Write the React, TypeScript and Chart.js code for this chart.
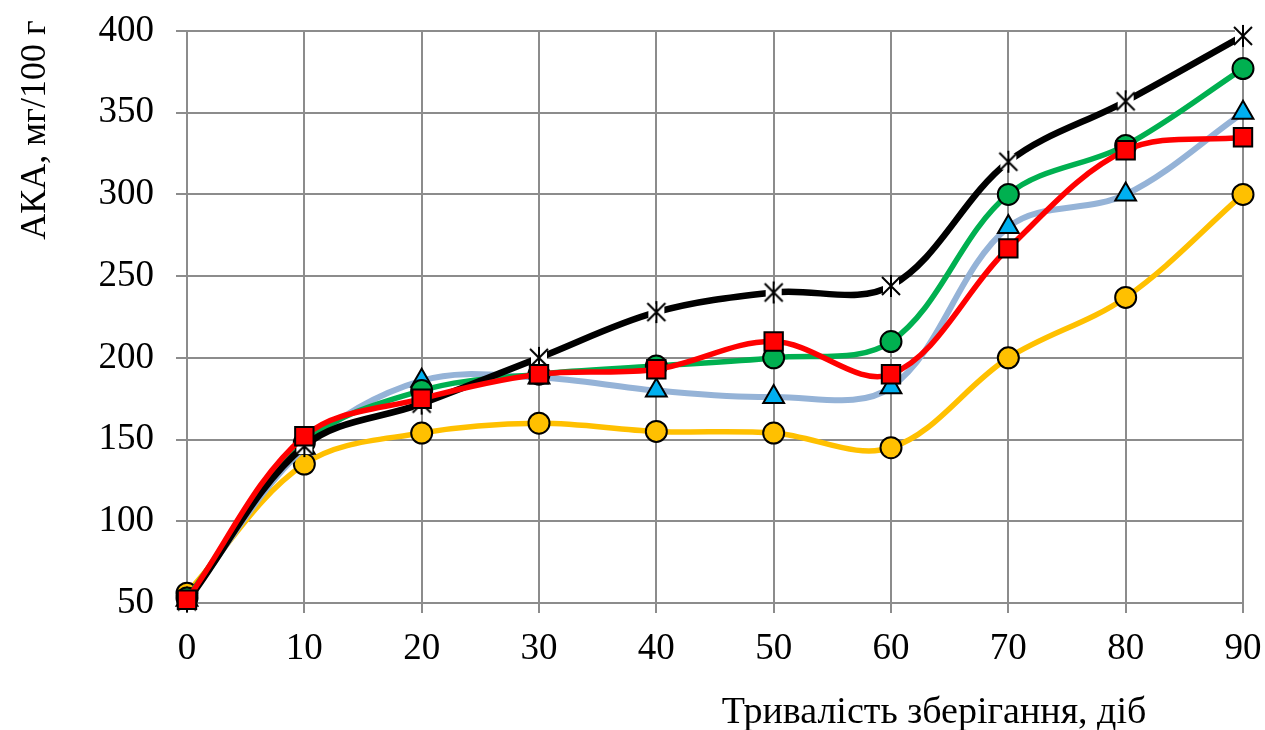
import React, { useEffect, useRef } from 'react';
import { Chart, registerables } from 'chart.js';

Chart.register(...registerables);

const days = [0, 10, 20, 30, 40, 50, 60, 70, 80, 90];
const seriesBlack = [51, 146, 172, 200, 228, 240, 244, 320, 357, 397];
const seriesGreen = [53, 148, 180, 190, 195, 200, 210, 300, 330, 377];
const seriesBlue = [52, 145, 186, 188, 180, 176, 182, 280, 300, 350];
const seriesRed = [52, 152, 175, 190, 193, 210, 190, 267, 327, 335];
const seriesYellow = [56, 135, 154, 160, 155, 154, 145, 200, 237, 300];
const yAxisTitle = 'АКА, мг/100 г';
const xAxisTitle = 'Тривалість зберігання, діб';

const FONT = "'Liberation Serif', 'Times New Roman', serif";
const GRID = '#8c8c8c';

function makeStar(): HTMLCanvasElement {
  const c = document.createElement('canvas');
  c.width = 24;
  c.height = 24;
  const g = c.getContext('2d')!;
  g.fillStyle = '#ffffff';
  g.fillRect(4, 4, 16, 16);
  g.strokeStyle = '#000000';
  g.lineWidth = 2;
  g.beginPath();
  g.moveTo(3, 3); g.lineTo(21, 21);
  g.moveTo(21, 3); g.lineTo(3, 21);
  g.moveTo(12, 1); g.lineTo(12, 23);
  g.stroke();
  return c;
}

const pts = (vals: number[]) => days.map((d, i) => ({ x: d, y: vals[i] }));

const titlePlugin = {
  id: 'axisTitles',
  afterDraw(chart: any) {
    const { ctx } = chart;
    ctx.save();
    ctx.fillStyle = '#000';
    ctx.font = `38px ${FONT}`;
    ctx.textAlign = 'center';
    ctx.textBaseline = 'alphabetic';
    ctx.fillText(xAxisTitle, 934, 723);
    ctx.font = `36px ${FONT}`;
    ctx.textBaseline = 'middle';
    ctx.translate(36, 130);
    ctx.rotate(-Math.PI / 2);
    ctx.fillText(yAxisTitle, 0, 0);
    ctx.restore();
  },
};

export default function App() {
  const ref = useRef<HTMLCanvasElement>(null);
  useEffect(() => {
    document.body.style.margin = '0';
    const star = makeStar();
    const common = {
      tension: 0.35,
      fill: false,
      pointBorderColor: '#000',
      pointBorderWidth: 2,
      pointRadius: 10.5,
      pointHoverRadius: 10.5,
      borderWidth: 5.5,
      clip: false as any,
    };
    const chart = new Chart(ref.current!, {
      type: 'line',
      data: {
        datasets: [
          { ...common, label: 'red', data: pts(seriesRed), borderColor: '#ff0000', pointStyle: 'rect', pointBackgroundColor: '#ff0000', pointRadius: 13, order: 0 },
          { ...common, label: 'black', data: pts(seriesBlack), borderColor: '#000000', borderWidth: 6.5, pointStyle: star as any, order: 1 },
          { ...common, label: 'green', data: pts(seriesGreen), borderColor: '#00b050', pointStyle: 'circle', pointBackgroundColor: '#00b050', order: 2 },
          { ...common, label: 'blue', data: pts(seriesBlue), borderColor: '#95b3d7', borderWidth: 6, pointStyle: 'triangle', pointBackgroundColor: '#00b0f0', pointRadius: 12, order: 3 },
          { ...common, label: 'yellow', data: pts(seriesYellow), borderColor: '#ffc000', pointStyle: 'circle', pointBackgroundColor: '#ffc000', order: 4 },
        ],
      },
      options: {
        animation: false,
        responsive: true,
        maintainAspectRatio: false,
        layout: { padding: { top: 31, right: 22, left: 0, bottom: 0 } },
        plugins: { legend: { display: false }, tooltip: { enabled: false } },
        events: [],
        scales: {
          x: {
            type: 'linear',
            min: 0,
            max: 90,
            ticks: { stepSize: 10, color: '#000', font: { family: FONT, size: 37 }, padding: 14 },
            grid: { color: GRID, lineWidth: 2, tickLength: 10 },
            border: { color: GRID, width: 2 },
            afterFit: (s: any) => { s.height = 127; s.paddingLeft = 0; s.paddingRight = 0; },
          },
          y: {
            min: 50,
            max: 400,
            ticks: { stepSize: 50, color: '#000', font: { family: FONT, size: 37 }, padding: 22 },
            grid: { color: GRID, lineWidth: 2, tickLength: 11 },
            border: { color: GRID, width: 2 },
            afterFit: (s: any) => { s.width = 187; s.paddingTop = 0; s.paddingBottom = 0; },
          },
        },
      },
      plugins: [titlePlugin],
    });
    return () => chart.destroy();
  }, []);
  return (
    <div style={{ width: 1265, height: 730, position: 'relative' }}>
      <canvas ref={ref} />
    </div>
  );
}
